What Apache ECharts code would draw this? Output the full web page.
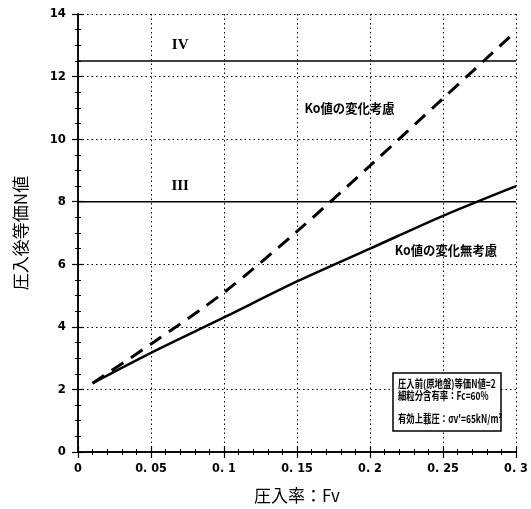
<!DOCTYPE html>
<html>
<head>
<meta charset="utf-8">
<script src="https://cdn.jsdelivr.net/npm/echarts@6/dist/echarts.min.js"></script>
<style>
  html, body { margin: 0; padding: 0; background: #fff; }
  #chart { width: 531px; height: 509px; }
</style>
</head>
<body>
<div id="chart"></div>
<script>
// Injection ratio Fv (x) and equivalent N value after injection (y)
const fv = [0.01, 0.05, 0.10, 0.15, 0.20, 0.25, 0.30];
const nNoK0Change = [2.2, 3.17, 4.3, 5.45, 6.5, 7.55, 8.5];     // Ko値の変化無考慮
const nWithK0Change = [2.2, 3.45, 5.1, 7.05, 9.15, 11.3, 13.45]; // Ko値の変化考慮

// Class boundaries (horizontal reference lines)
const levelIV = 12.5;
const levelIII = 8;

const xTicks = ['0', '0. 05', '0. 1', '0. 15', '0. 2', '0. 25', '0. 3'];
const yTicks = ['0', '2', '4', '6', '8', '10', '12', '14'];

const condensed = '"Liberation Sans Narrow", "DejaVu Sans Condensed", "Liberation Sans", sans-serif';
const cjk = '"Noto Sans CJK JP", sans-serif';

const chart = echarts.init(document.getElementById('chart'), null, { renderer: 'canvas' });

const pairs = (xs, ys) => xs.map((x, i) => [x, ys[i]]);
const xMin = 0, xMax = 0.3;

const axisLine = { show: true, lineStyle: { color: '#000', width: 1.5 } };
const axisTick = { show: true, inside: true, length: 6, lineStyle: { color: '#000', width: 1.2 } };
const dotted = { show: true, lineStyle: { color: '#000', type: [1.5, 3], width: 1 } };

const option = {
  animation: false,
  backgroundColor: '#fff',
  grid: { left: 78, right: 15, top: 14, bottom: 57, containLabel: false },
  xAxis: [
    {
      type: 'value', min: xMin, max: xMax, interval: 0.05, position: 'bottom',
      axisLine: axisLine, axisTick: axisTick,
      minorTick: { show: true, splitNumber: 5, length: 3, lineStyle: { color: '#000' } },
      axisLabel: {
        color: '#000', fontFamily: condensed, fontWeight: 'bold', fontSize: 12.5, margin: 10,
        formatter: (v) => xTicks[Math.round(v / 0.05)]
      },
      splitLine: dotted,
      name: '圧入率：Fv', nameLocation: 'middle', nameGap: 35,
      nameTextStyle: { color: '#000', fontFamily: cjk, fontSize: 17 }
    },
    {
      type: 'value', min: xMin, max: xMax, interval: 0.05, position: 'top',
      axisLine: axisLine, axisTick: axisTick,
      minorTick: { show: true, splitNumber: 5, length: 3, lineStyle: { color: '#000' } },
      axisLabel: { show: false }, splitLine: { show: false }
    }
  ],
  yAxis: [
    {
      type: 'value', min: 0, max: 14, interval: 2, position: 'left',
      axisLine: axisLine, axisTick: axisTick,
      minorTick: { show: true, splitNumber: 4, length: 3, lineStyle: { color: '#000' } },
      axisLabel: {
        color: '#000', fontFamily: condensed, fontWeight: 'bold', fontSize: 13, margin: 12,
        formatter: (v) => yTicks[Math.round(v / 2)]
      },
      splitLine: dotted,
      name: '圧入後等価N値', nameLocation: 'middle', nameGap: 49, nameRotate: 90,
      nameTextStyle: { color: '#000', fontFamily: cjk, fontSize: 17 }
    },
    {
      type: 'value', min: 0, max: 14, interval: 2, position: 'right',
      axisLine: axisLine, axisTick: axisTick,
      minorTick: { show: true, splitNumber: 4, length: 3, lineStyle: { color: '#000' } },
      axisLabel: { show: false }, splitLine: { show: false }
    }
  ],
  series: [
    {
      name: 'IV', type: 'line', symbol: 'none', silent: true,
      data: [[xMin, levelIV], [xMax, levelIV]],
      lineStyle: { color: '#000', width: 1.6 }
    },
    {
      name: 'III', type: 'line', symbol: 'none', silent: true,
      data: [[xMin, levelIII], [xMax, levelIII]],
      lineStyle: { color: '#000', width: 1.6 }
    },
    {
      name: 'Ko値の変化考慮', type: 'line', symbol: 'none', smooth: 0.3,
      data: pairs(fv, nWithK0Change),
      lineStyle: { color: '#000', width: 3, type: [14, 9] }
    },
    {
      name: 'Ko値の変化無考慮', type: 'line', symbol: 'none', smooth: 0.3,
      data: pairs(fv, nNoK0Change),
      lineStyle: { color: '#000', width: 2.5 }
    }
  ]
};

chart.setOption(option);

// Text annotations, positioned in data coordinates
const at = (x, y) => chart.convertToPixel({ xAxisIndex: 0, yAxisIndex: 0 }, [x, y]);
const labelIV = at(0.07, 13.0);
const labelIII = at(0.07, 8.5);
const labelWith = at(0.186, 11.0);
const labelWithout = at(0.252, 6.45);

const annText = (pos, text, font, size, sx) => ({
  type: 'text', x: pos[0], y: pos[1], scaleX: sx || 1,
  style: {
    text: text, fill: '#000', font: 'bold ' + size + 'px ' + font,
    textAlign: 'center', textVerticalAlign: 'middle'
  }
});

// Condition box in the lower right of the plot
const box = { x: 393, y: 373, w: 108, h: 58 };
const boxLines = [
  { text: '圧入前(原地盤)等価N値=2', dy: 11 },
  { text: '細粒分含有率：Fc=60%', dy: 23 },
  { text: '有効上載圧：σv\'=65kN/m²', dy: 46 }
];

chart.setOption({
  graphic: [
    annText(labelIV, 'IV', '"Liberation Serif", serif', 15, 1),
    annText(labelIII, 'III', '"Liberation Serif", serif', 15, 1),
    annText(labelWith, 'Ko値の変化考慮', cjk, 13, 0.95),
    annText(labelWithout, 'Ko値の変化無考慮', cjk, 13, 0.95),
    {
      type: 'rect',
      shape: { x: box.x, y: box.y, width: box.w, height: box.h },
      style: { fill: '#fff', stroke: '#000', lineWidth: 1.5 },
      z: 10
    }
  ].concat(boxLines.map(l => ({
    type: 'text', x: box.x + 5, y: box.y + l.dy, scaleX: 0.76, z: 11,
    style: {
      text: l.text, fill: '#000', font: 'bold 11px ' + cjk,
      textAlign: 'left', textVerticalAlign: 'middle'
    }
  })))
});
</script>
</body>
</html>
